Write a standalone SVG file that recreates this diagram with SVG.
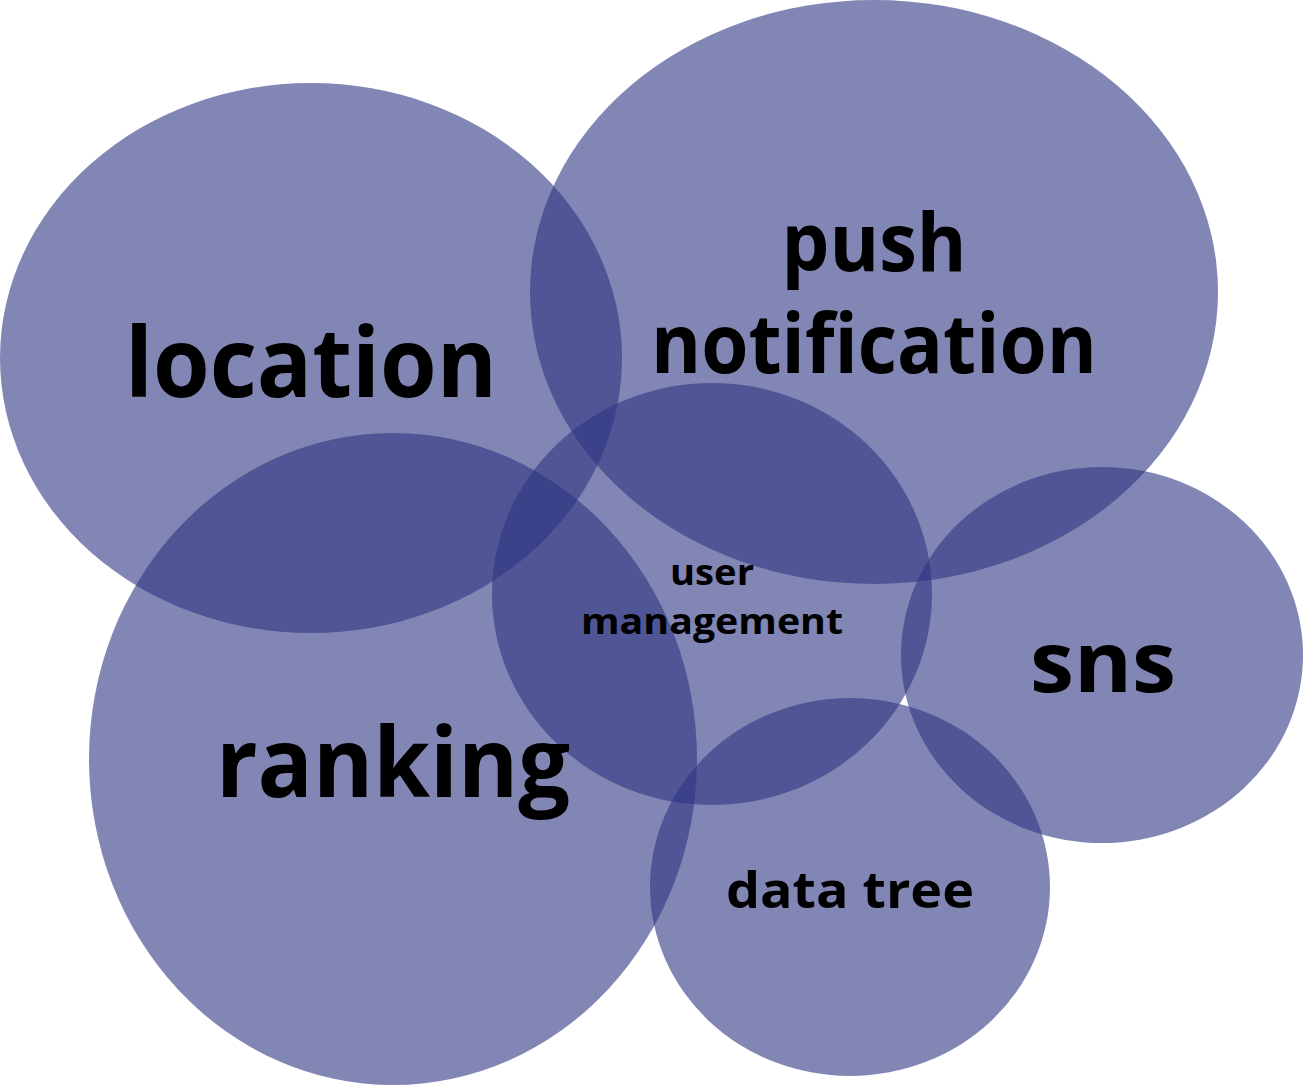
<svg xmlns="http://www.w3.org/2000/svg" width="1303" height="1086" viewBox="0 0 1303 1086">
<style>
.b{fill:#2F3582;fill-opacity:0.6}
text{font-family:"Open Sans","Noto Sans","DejaVu Sans",sans-serif;font-weight:bold;fill:#000;text-anchor:middle}
</style>
<rect width="1303" height="1086" fill="#fff"/>
<g id="location"><ellipse class="b" cx="311" cy="358" rx="311" ry="275"/></g>
<g id="push"><ellipse class="b" cx="874" cy="292" rx="344" ry="292"/></g>
<g id="ranking"><ellipse class="b" cx="393" cy="759" rx="304" ry="326"/></g>
<g id="user"><ellipse class="b" cx="712" cy="594" rx="220" ry="211"/></g>
<g id="sns"><ellipse class="b" cx="1102" cy="655" rx="201" ry="188"/></g>
<g id="datatree"><ellipse class="b" cx="850" cy="887" rx="200" ry="189"/></g>
<g id="connectors"></g>
<g id="labels">
<text x="311" y="397" font-size="96" textLength="372" lengthAdjust="spacingAndGlyphs">location</text>
<text x="874" y="271" font-size="80" textLength="185" lengthAdjust="spacingAndGlyphs">push</text>
<text x="874" y="373" font-size="82" textLength="446" lengthAdjust="spacingAndGlyphs">notification</text>
<text x="393" y="797" font-size="96" textLength="354" lengthAdjust="spacingAndGlyphs">ranking</text>
<text x="1103" y="692" font-size="84" textLength="146" lengthAdjust="spacingAndGlyphs">sns</text>
<text x="712" y="585" font-size="35" textLength="84" lengthAdjust="spacingAndGlyphs">user</text>
<text x="712" y="634" font-size="35" textLength="262" lengthAdjust="spacingAndGlyphs">management</text>
<text x="850" y="908" font-size="50" textLength="248" lengthAdjust="spacingAndGlyphs">data tree</text>
</g>
</svg>
